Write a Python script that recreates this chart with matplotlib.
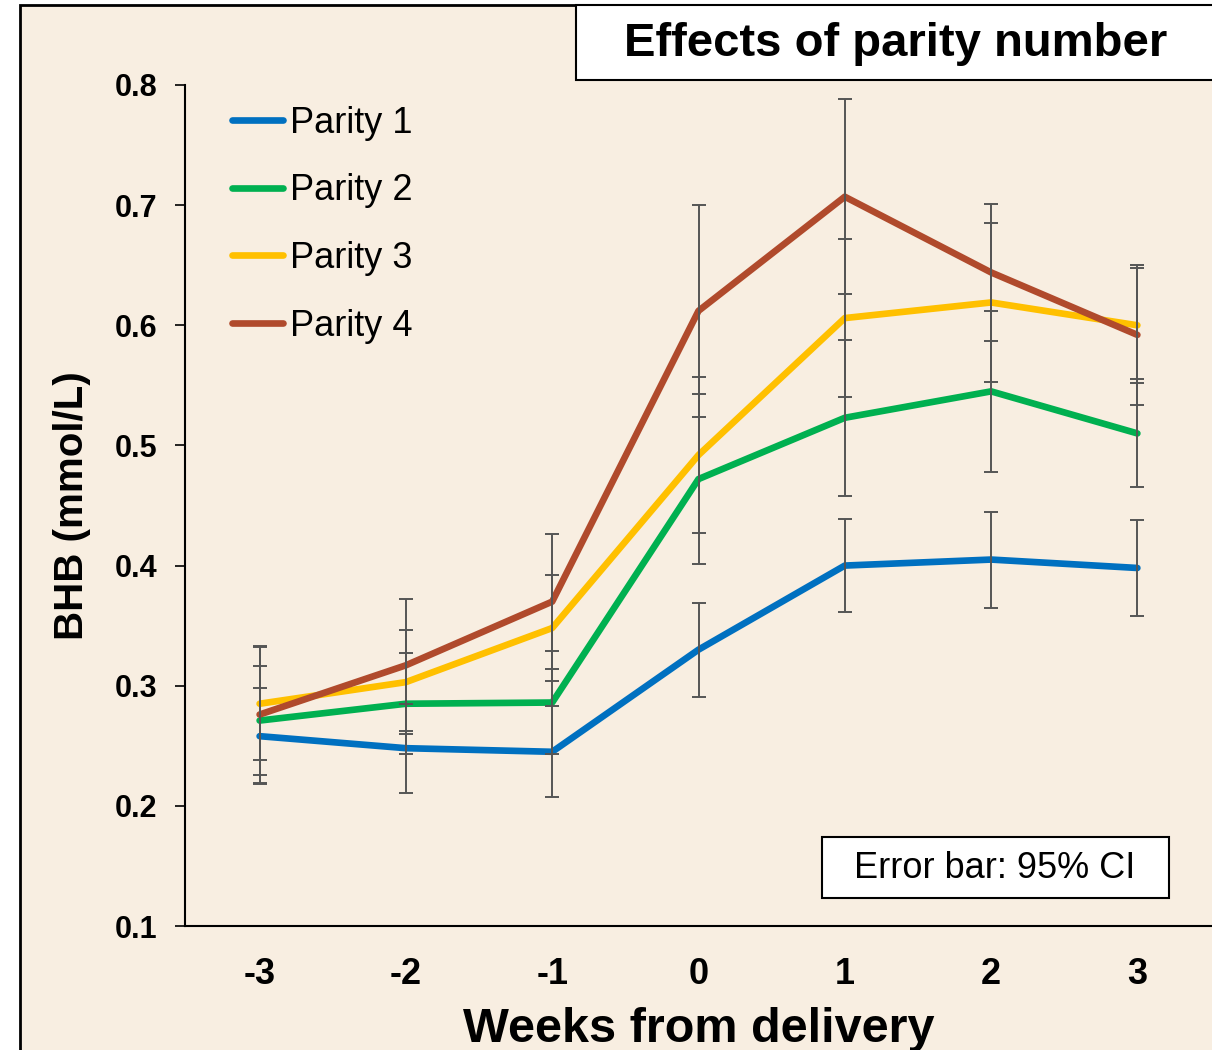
import matplotlib
matplotlib.use("Agg")
import matplotlib.pyplot as plt
from matplotlib.patches import Rectangle
from matplotlib.lines import Line2D

plt.rcParams['font.family'] = ['Liberation Sans', 'DejaVu Sans']

weeks = [-3, -2, -1, 0, 1, 2, 3]
series_names = ["Parity 1", "Parity 2", "Parity 3", "Parity 4"]
p1 = [0.258, 0.248, 0.245, 0.330, 0.400, 0.405, 0.398]
p1_ci = [0.040, 0.037, 0.038, 0.039, 0.039, 0.040, 0.040]
p2 = [0.271, 0.285, 0.286, 0.472, 0.523, 0.545, 0.510]
p2_ci = [0.045, 0.042, 0.043, 0.071, 0.065, 0.067, 0.045]
p3 = [0.285, 0.303, 0.348, 0.492, 0.606, 0.619, 0.600]
p3_ci = [0.047, 0.043, 0.044, 0.065, 0.066, 0.066, 0.048]
p4 = [0.276, 0.317, 0.370, 0.612, 0.707, 0.644, 0.592]
p4_ci = [0.057, 0.055, 0.056, 0.088, 0.081, 0.057, 0.058]
yticks = [0.1, 0.2, 0.3, 0.4, 0.5, 0.6, 0.7, 0.8]
ytick_labels = ["0.1", "0.2", "0.3", "0.4", "0.5", "0.6", "0.7", "0.8"]
xtick_labels = ["-3", "-2", "-1", "0", "1", "2", "3"]

colors = ["#0070C0", "#00B050", "#FFC000", "#B04A2C"]
bg = "#F8EEE1"
LW = 4.8

W, H = 1212, 1050
fig = plt.figure(figsize=(W / 100, H / 100), dpi=100, facecolor="white")

def fx(px):
    return px / W

def fy(py):
    return (H - py) / H

# outer frame
fig.patches.append(Rectangle((fx(20), -0.1), 1.2, fy(5) + 0.1, transform=fig.transFigure,
                             facecolor=bg, edgecolor="black", linewidth=2, zorder=-10))
# title box
fig.patches.append(Rectangle((fx(576), fy(80)), 1.0, fy(5) - fy(80), transform=fig.transFigure,
                             facecolor="white", edgecolor="black", linewidth=1.5, zorder=-9))
fig.text(fx(896), fy(44), "Effects of parity number", ha="center", va="center",
         fontsize=34, fontweight="bold", color="black")

ax = fig.add_axes([fx(185), fy(926), fx(1212) - fx(185), fy(85) - fy(926)])
ax.set_facecolor("none")

data = [(p1, p1_ci), (p2, p2_ci), (p3, p3_ci), (p4, p4_ci)]
for (vals, ci), c, name in zip(data, colors, series_names):
    ax.plot(weeks, vals, color=c, linewidth=LW, solid_joinstyle="round",
            solid_capstyle="round", zorder=3, label=name)
for (vals, ci), c in zip(data, colors):
    ax.errorbar(weeks, vals, yerr=ci, fmt="none", ecolor="#555555", elinewidth=1.4,
                capsize=5, capthick=1.4, zorder=4)

ax.set_xlim(-3.51, 3.51)
ax.set_ylim(0.1, 0.8)
ax.set_yticks(yticks)
ax.set_yticklabels(ytick_labels, fontsize=22, fontweight="bold")
ax.set_xticks(weeks)
ax.set_xticklabels(xtick_labels, fontsize=26, fontweight="bold")
ax.tick_params(axis="x", length=0, pad=22)
ax.tick_params(axis="y", length=7, width=1.2, direction="out", pad=13)
for s in ["top", "right"]:
    ax.spines[s].set_visible(False)
for s in ["left", "bottom"]:
    ax.spines[s].set_linewidth(1.5)
    ax.spines[s].set_color("black")

ax.set_xlabel("Weeks from delivery", fontsize=35, fontweight="bold", labelpad=11)
ax.set_ylabel("BHB (mmol/L)", fontsize=29, fontweight="bold", labelpad=17)

handles = [Line2D([0], [0], color=c, linewidth=LW, solid_capstyle="round") for c in colors]
leg = ax.legend(handles, series_names, loc="upper left", bbox_to_anchor=(fx(232), fy(106)),
                bbox_transform=fig.transFigure, frameon=False, fontsize=26,
                handlelength=1.42, handletextpad=0.18, labelspacing=0.90, borderpad=0,
                borderaxespad=0)

# error bar note box
fig.patches.append(Rectangle((fx(822), fy(898)), fx(1169) - fx(822), fy(837) - fy(898),
                             transform=fig.transFigure, facecolor="white", edgecolor="black",
                             linewidth=1.5, zorder=5))
fig.text(fx(995), fy(868), "Error bar: 95% CI", ha="center", va="center", fontsize=26,
         color="black", zorder=6)

fig.savefig("out.png", dpi=100, facecolor="white")
